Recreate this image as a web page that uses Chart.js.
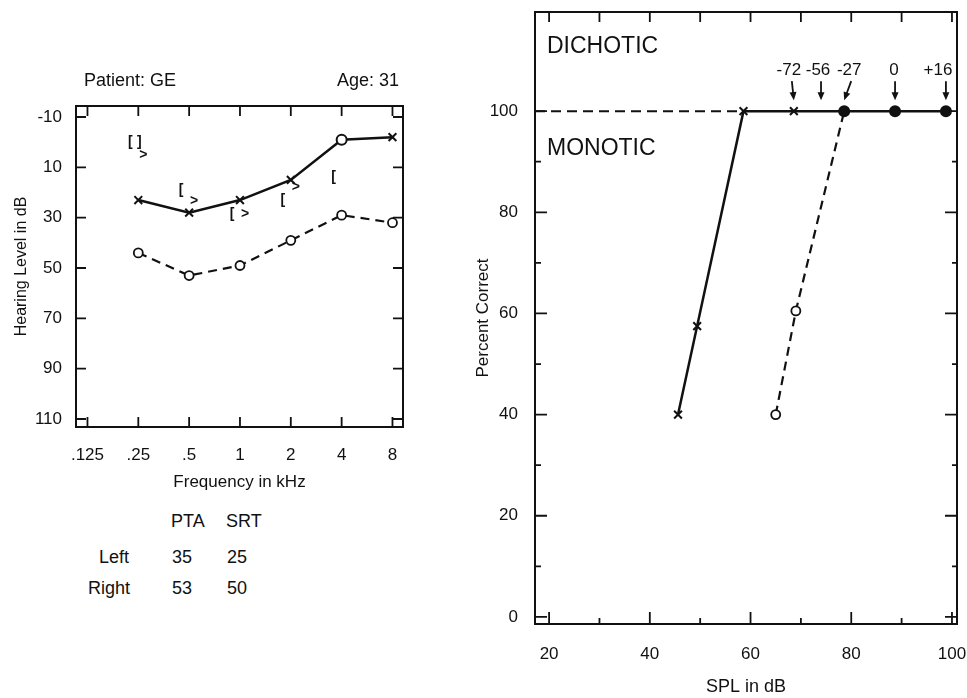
<!DOCTYPE html>
<html><head><meta charset="utf-8">
<script src="https://cdn.jsdelivr.net/npm/chart.js@4/dist/chart.umd.min.js"></script>
<style>
html,body{margin:0;padding:0;background:#fff;width:967px;height:698px;overflow:hidden;font-family:"Liberation Sans",Arial,sans-serif;color:#111}
#lw{position:absolute;left:0;top:0;width:440px;height:500px}
#rw{position:absolute;left:460px;top:0;width:507px;height:698px}
.t{position:absolute;font-size:18px;line-height:18px;white-space:nowrap}
.big{font-size:23px;line-height:23px}
</style></head><body>
<div id="lw"><canvas id="lc"></canvas></div>
<div id="rw"><canvas id="rc"></canvas></div>
<div class="t" style="left:84px;top:71px">Patient: GE</div>
<div class="t" style="right:568px;top:71px">Age: 31</div>
<div id="tbl"></div>
<div class="t big" style="left:547px;top:34px">DICHOTIC</div>
<div class="t big" style="left:547px;top:136px">MONOTIC</div>
<script>
// ---------- Audiogram (left) ----------
const freqs = [0.25, 0.5, 1, 2, 4, 8];
const freqTicks = [0.125, 0.25, 0.5, 1, 2, 4, 8];
const freqTickLabels = ['.125', '.25', '.5', '1', '2', '4', '8'];
const hlTicks = [-10, 10, 30, 50, 70, 90, 110];
const leftAir = [23, 28, 23, 15, -1, -2];      // X, solid
const rightAir = [44, 53, 49, 39, 29, 32];     // O, dashed
const bracketFreqs = [0.25, 0.5, 1, 2, 4];
const bracketHL = [0, 19, 28.5, 23, 14];       // "["
const closeBracketFreqs = [0.25];
const closeBracketHL = [0];                    // "]"
const angleFreqs = [0.25, 0.5, 1, 2];
const angleHL = [5, 23.5, 28.5, 18];           // ">"
// table
const tableCols = ['PTA', 'SRT'];
const tableRows = ['Left', 'Right'];
const pta = [35, 53];
const srt = [25, 50];

// ---------- Dichotic / monotic (right) ----------
const splTicks = [20, 40, 60, 80, 100];
const pctTicks = [0, 20, 40, 60, 80, 100];
const dichSPL = [58.6, 68.6, 78.6, 88.7, 98.8];
const dichPct = [100, 100, 100, 100, 100];
const monoLeftSPL = [45.6, 49.4, 58.6];
const monoLeftPct = [40, 57.5, 100];
const monoRightSPL = [65.0, 69.0, 78.6];
const monoRightPct = [40, 60.5, 100];
const refLineSPL = [17.2, 58.6];
const refLinePct = [100, 100];
const annotLabels = ['-72', '-56', '-27', '0', '+16'];
const annotSPL = [68.6, 73.6, 78.6, 88.7, 98.8];
const annotLevel = 100;

// build table text
(function(){
  const box = document.getElementById('tbl');
  const colX = [171, 226], rowX = [99, 88], rowY = [548, 579], headY = 512;
  let h = '';
  tableCols.forEach((c,i)=>{ h += `<div class="t" style="left:${colX[i]}px;top:${headY}px">${c}</div>`; });
  tableRows.forEach((r,j)=>{
    h += `<div class="t" style="left:${rowX[j]}px;top:${rowY[j]}px">${r}</div>`;
    h += `<div class="t" style="left:${colX[0]+1}px;top:${rowY[j]}px">${pta[j]}</div>`;
    h += `<div class="t" style="left:${colX[1]+1}px;top:${rowY[j]}px">${srt[j]}</div>`;
  });
  box.innerHTML = h;
})();

Chart.defaults.font.family = '"Liberation Sans", Arial, sans-serif';
Chart.defaults.color = '#111';
const INK = '#111';

const framePlugin = {
  id: 'frame',
  beforeDatasetsDraw(chart, args, o) {
    const {ctx, chartArea: a, scales: {x, y}} = chart;
    ctx.save();
    ctx.strokeStyle = INK; ctx.lineWidth = 2;
    ctx.strokeRect(a.left, a.top, a.right - a.left, a.bottom - a.top);
    ctx.lineWidth = 1.8;
    ctx.beginPath();
    o.xTicks.forEach(t => {
      const px = x.getPixelForValue(t.v);
      ctx.moveTo(px, a.bottom); ctx.lineTo(px, a.bottom - t.bottom);
      ctx.moveTo(px, a.top); ctx.lineTo(px, a.top + t.top);
    });
    o.yTicks.forEach(t => {
      const py = y.getPixelForValue(t.v);
      ctx.moveTo(a.left, py); ctx.lineTo(a.left + t.left, py);
      ctx.moveTo(a.right, py); ctx.lineTo(a.right - t.right, py);
    });
    ctx.stroke();
    ctx.restore();
  }
};

const glyphPlugin = {
  id: 'glyphs',
  afterDatasetsDraw(chart) {
    const ctx = chart.ctx;
    chart.data.datasets.forEach((ds, i) => {
      if (!ds.glyph) return;
      const meta = chart.getDatasetMeta(i);
      ctx.save();
      ctx.font = 'bold 14px "Liberation Sans", Arial, sans-serif';
      ctx.fillStyle = INK; ctx.textAlign = 'center'; ctx.textBaseline = 'middle';
      meta.data.forEach(el => ctx.fillText(ds.glyph, el.x + ds.glyphDx, el.y));
      ctx.restore();
    });
  }
};

const annotPlugin = {
  id: 'annot',
  afterDatasetsDraw(chart, args, o) {
    const {ctx, scales: {x, y}} = chart;
    const yl = y.getPixelForValue(annotLevel);
    ctx.save();
    ctx.font = '17px "Liberation Sans", Arial, sans-serif';
    ctx.fillStyle = INK; ctx.strokeStyle = INK; ctx.lineWidth = 1.8;
    ctx.textAlign = 'center'; ctx.textBaseline = 'middle';
    annotSPL.forEach((v, i) => {
      const px = x.getPixelForValue(v);
      ctx.fillText(annotLabels[i], px + o.labelDx[i], yl - 41);
      const x1 = px + o.arrowDx[i], y1 = yl - 30, x2 = px + o.tipDx[i], y2 = yl - 11;
      const ang = Math.atan2(y2 - y1, x2 - x1);
      ctx.beginPath(); ctx.moveTo(x1, y1);
      ctx.lineTo(x2 - 6 * Math.cos(ang), y2 - 6 * Math.sin(ang)); ctx.stroke();
      ctx.beginPath();
      ctx.moveTo(x2, y2);
      ctx.lineTo(x2 - 8 * Math.cos(ang) + 3.5 * Math.sin(ang), y2 - 8 * Math.sin(ang) - 3.5 * Math.cos(ang));
      ctx.lineTo(x2 - 8 * Math.cos(ang) - 3.5 * Math.sin(ang), y2 - 8 * Math.sin(ang) + 3.5 * Math.cos(ang));
      ctx.closePath(); ctx.fill();
    });
    ctx.restore();
  }
};

const pts = (xs, ys) => xs.map((v, i) => ({x: v, y: ys[i]}));
const common = {
  responsive: true, maintainAspectRatio: false, animation: false,
  events: [],
};
const noPad = s => { s.paddingLeft = 0; s.paddingRight = 0; s.paddingTop = 0; s.paddingBottom = 0; };

new Chart(document.getElementById('lc'), {
  type: 'line',
  data: { datasets: [
    { data: pts(freqs, leftAir), borderColor: INK, borderWidth: 2.5,
      pointStyle: ['crossRot','crossRot','crossRot','crossRot','circle','crossRot'],
      pointRadius: [5.5,5.5,5.5,5.5,5,5.5], pointBorderWidth: 2, pointBorderColor: INK, pointBackgroundColor: '#fff' },
    { data: pts(freqs, rightAir), borderColor: INK, borderWidth: 2.2, borderDash: [9, 6],
      pointStyle: 'circle', pointRadius: 4.5, pointBorderWidth: 1.8, pointBorderColor: INK, pointBackgroundColor: '#fff' },
    { data: pts(bracketFreqs, bracketHL), showLine: false, pointRadius: 0, glyph: '[', glyphDx: -8 },
    { data: pts(closeBracketFreqs, closeBracketHL), showLine: false, pointRadius: 0, glyph: ']', glyphDx: 1 },
    { data: pts(angleFreqs, angleHL), showLine: false, pointRadius: 0, glyph: '>', glyphDx: 5 },
  ]},
  options: { ...common,
    layout: { padding: { top: 106, right: 37, left: 0, bottom: 0 } },
    plugins: { legend: { display: false }, tooltip: { enabled: false },
      frame: { xTicks: freqTicks.map(v => ({v, top: 10, bottom: 10})),
               yTicks: hlTicks.map(v => ({v, left: 10, right: 10})) } },
    scales: {
      x: { type: 'logarithmic', min: 0.1069, max: 9.235,
        afterBuildTicks: s => { s.ticks = freqTicks.map(v => ({value: v})); },
        afterFit: s => { s.height = 73; noPad(s); },
        grid: { display: false, drawTicks: false }, border: { display: false },
        ticks: { padding: 18, autoSkip: false, maxRotation: 0, font: { size: 17 }, color: INK,
                 callback: (v, i) => freqTickLabels[i] },
        title: { display: true, text: 'Frequency in kHz', font: { size: 17 }, color: INK, padding: { top: 0, bottom: 7 } } },
      y: { type: 'linear', reverse: true, min: -14.37, max: 113.18,
        afterBuildTicks: s => { s.ticks = hlTicks.map(v => ({value: v})); },
        afterFit: s => { s.width = 76; noPad(s); },
        grid: { display: false, drawTicks: false }, border: { display: false },
        ticks: { padding: 14, autoSkip: false, font: { size: 17 }, color: INK },
        title: { display: true, text: 'Hearing Level in dB', font: { size: 16 }, color: INK, padding: { top: 12, bottom: 0 } } }
    }
  },
  plugins: [framePlugin, glyphPlugin]
});

const splAll = [20,30,40,50,60,70,80,90,100];
const pctAll = [0,10,20,30,40,50,60,70,80,90,100];
new Chart(document.getElementById('rc'), {
  type: 'line',
  data: { datasets: [
    { data: pts(refLineSPL, refLinePct), borderColor: INK, borderWidth: 2, borderDash: [10, 6], pointRadius: 0 },
    { data: pts(monoLeftSPL, monoLeftPct), borderColor: INK, borderWidth: 2.5,
      pointStyle: 'crossRot', pointRadius: [5.5,5.5,0], pointBorderWidth: 2, pointBorderColor: INK },
    { data: pts(monoRightSPL, monoRightPct), borderColor: INK, borderWidth: 2.2, borderDash: [9, 6],
      pointStyle: 'circle', pointRadius: [4.5,4.5,0], pointBorderWidth: 1.8, pointBorderColor: INK, pointBackgroundColor: '#fff' },
    { data: pts(dichSPL, dichPct), borderColor: INK, borderWidth: 2.5,
      pointStyle: ['crossRot','crossRot','circle','circle','circle'], pointRadius: [5.5,5.5,5,5,5],
      pointBorderWidth: 2, pointBorderColor: INK, pointBackgroundColor: ['#fff','#fff',INK,INK,INK] },
  ]},
  options: { ...common,
    layout: { padding: { top: 12, right: 10, left: 0, bottom: 0 } },
    plugins: { legend: { display: false }, tooltip: { enabled: false },
      frame: { xTicks: splAll.map(v => ({v, top: 10, bottom: v % 20 === 0 ? 12 : 6})),
               yTicks: pctAll.map(v => ({v, left: v % 20 === 0 ? 12 : 6, right: v % 20 === 0 ? 12 : 5})) },
      annot: { labelDx: [-5, -1, 5, -1, -8], arrowDx: [-2, 2, 7, 0, 0], tipDx: [0, 2, 0, 0, 0] } },
    scales: {
      x: { type: 'linear', min: 17.2, max: 101,
        afterBuildTicks: s => { s.ticks = splTicks.map(v => ({value: v})); },
        afterFit: s => { s.height = 74; noPad(s); },
        grid: { display: false, drawTicks: false }, border: { display: false },
        ticks: { padding: 20, autoSkip: false, maxRotation: 0, font: { size: 17 }, color: INK },
        title: { display: true, text: 'SPL in dB', font: { size: 18 }, color: INK, padding: { top: 0, bottom: 0 } } },
      y: { type: 'linear', min: -1.4, max: 119.6,
        afterBuildTicks: s => { s.ticks = pctTicks.map(v => ({value: v})); },
        afterFit: s => { s.width = 75; noPad(s); },
        grid: { display: false, drawTicks: false }, border: { display: false },
        ticks: { padding: 17, autoSkip: false, font: { size: 17 }, color: INK },
        title: { display: true, text: 'Percent Correct', font: { size: 17 }, color: INK, padding: { top: 13, bottom: 0 } } }
    }
  },
  plugins: [framePlugin, annotPlugin]
});
</script>
</body></html>
